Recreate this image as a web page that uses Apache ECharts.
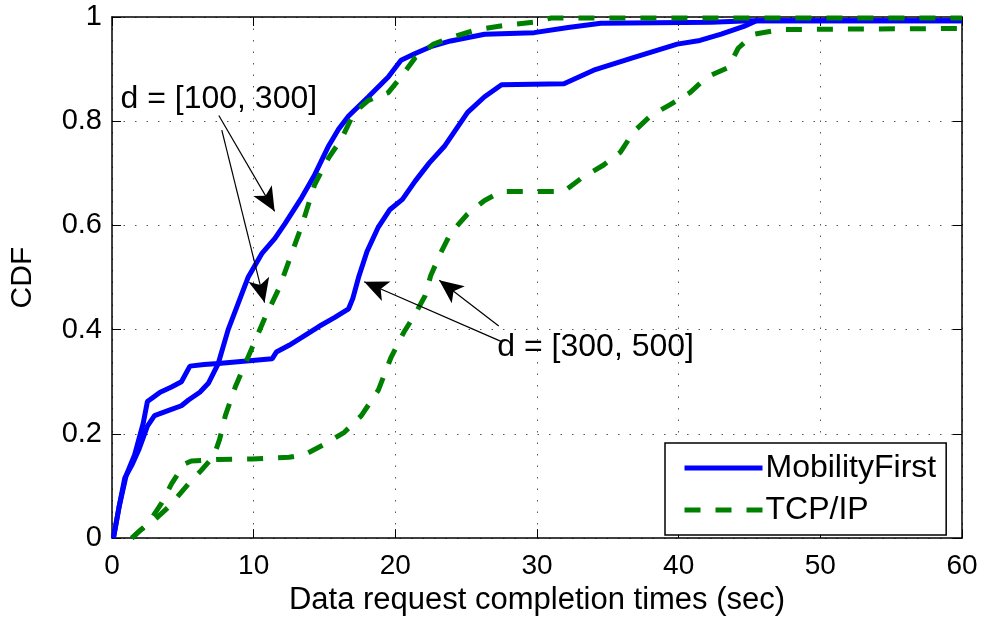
<!DOCTYPE html>
<html>
<head>
<meta charset="utf-8">
<script src="https://cdn.jsdelivr.net/npm/echarts@6/dist/echarts.min.js"></script>
<style>
  html, body { margin: 0; padding: 0; background: #fff; }
  #main { width: 981px; height: 621px; }
</style>
</head>
<body>
<div id="main"></div>
<script>
var xTicks = [0, 10, 20, 30, 40, 50, 60];
var yTicks = [0, 0.2, 0.4, 0.6, 0.8, 1];

// MobilityFirst, d = [100, 300]
var mfNearX = [0.1, 0.5, 0.9, 1.4, 1.9, 2.5, 3.0, 4.0, 4.9, 5.4, 6.2, 6.8, 7.5, 8.2, 8.9, 9.6, 10.6, 11.5, 12.2, 13.4, 14.3, 15.3, 16.0, 16.7, 18.1, 19.5, 20.4, 21.4, 22.5, 23.9, 26.3, 29.8, 32.2, 34.5, 42.3, 45, 60];
var mfNearY = [0, 0.06, 0.115, 0.14, 0.17, 0.215, 0.235, 0.245, 0.254, 0.265, 0.28, 0.297, 0.335, 0.40, 0.45, 0.50, 0.547, 0.575, 0.603, 0.654, 0.697, 0.753, 0.785, 0.81, 0.847, 0.885, 0.917, 0.93, 0.943, 0.954, 0.967, 0.97, 0.98, 0.988, 0.99, 0.993, 0.993];

// MobilityFirst, d = [300, 500]
var mfFarX = [0.1, 0.5, 1.0, 1.6, 2.2, 2.5, 3.4, 4.2, 4.9, 5.5, 6.5, 7.5, 9.5, 11.3, 11.6, 12.5, 13.4, 14.6, 15.7, 16.7, 17.0, 17.4, 18.0, 18.8, 19.6, 20.5, 21.4, 22.4, 23.5, 25.1, 26.3, 27.5, 31.9, 34.0, 36.8, 39.9, 41.5, 43, 44.6, 45.5, 60];
var mfFarY = [0, 0.06, 0.12, 0.16, 0.22, 0.262, 0.28, 0.29, 0.30, 0.33, 0.333, 0.335, 0.34, 0.344, 0.357, 0.37, 0.385, 0.406, 0.423, 0.44, 0.46, 0.50, 0.55, 0.597, 0.63, 0.65, 0.685, 0.72, 0.753, 0.817, 0.847, 0.87, 0.872, 0.898, 0.922, 0.948, 0.955, 0.967, 0.982, 0.993, 0.993];

// TCP/IP, d = [100, 300]
var tcpNearX = [1.4, 2.0, 2.8, 4.0, 5.4, 6.3, 7.2, 7.6, 8.0, 8.7, 9.9, 10.8, 11.8, 12.2, 13.4, 14.3, 15.3, 16.2, 17.1, 18.1, 19.5, 20.4, 21.4, 22.7, 24.2, 25.8, 28, 29.8, 31, 60];
var tcpNearY = [0, 0.015, 0.03, 0.06, 0.104, 0.13, 0.158, 0.19, 0.235, 0.29, 0.366, 0.423, 0.48, 0.51, 0.60, 0.678, 0.73, 0.766, 0.817, 0.84, 0.855, 0.885, 0.922, 0.948, 0.963, 0.976, 0.985, 0.99, 0.998, 0.998];

// TCP/IP, d = [300, 500]
var tcpFarX = [1.4, 2.0, 2.6, 3.5, 4.2, 5.1, 5.6, 7.5, 9.9, 12.5, 13.6, 15, 16.4, 17.6, 18.8, 19.7, 20.6, 21.4, 22.1, 22.5, 23.2, 23.9, 25.1, 26.3, 27.5, 31.9, 33.1, 34.7, 35.9, 36.8, 38, 39.4, 40.8, 42, 43.5, 44.2, 45.3, 47.2, 60];
var tcpFarY = [0, 0.015, 0.03, 0.067, 0.104, 0.142, 0.148, 0.151, 0.152, 0.155, 0.16, 0.18, 0.203, 0.235, 0.284, 0.347, 0.395, 0.43, 0.465, 0.504, 0.547, 0.585, 0.622, 0.648, 0.665, 0.665, 0.69, 0.716, 0.741, 0.779, 0.81, 0.832, 0.855, 0.885, 0.903, 0.94, 0.967, 0.976, 0.978];

// annotation arrows: [fromX, fromY, toX, toY]
var arrows = [
  [7.54, 0.811, 11.48, 0.627],
  [7.75, 0.783, 10.77, 0.452],
  [27.3, 0.407, 23.1, 0.495],
  [27.5, 0.377, 17.8, 0.492]
];
var notes = [
  ['d = [100, 300]', 0.6, 0.843],
  ['d = [300, 500]', 27.2, 0.367]
];

function zip(xs, ys) {
  return xs.map(function (x, i) { return [x, ys[i]]; });
}

var FONT = 'Liberation Sans, Arial, sans-serif';
var BLUE = '#0000ff', GREEN = '#008000';

var myChart = echarts.init(document.getElementById('main'), null, { renderer: 'canvas' });

var gridLine = { show: true, lineStyle: { color: '#555', width: 1, type: [1.5, 10] } };

var option = {
  animation: false,
  backgroundColor: '#fff',
  grid: { left: 110, right: 19, top: 17, bottom: 73, show: false },
  legend: {
    data: ['MobilityFirst', 'TCP/IP'],
    orient: 'vertical',
    left: 665,
    top: 443,
    padding: [8, 10, 8, 17],
    itemGap: 8,
    itemWidth: 78,
    itemHeight: 14,
    backgroundColor: '#fff',
    borderColor: '#000',
    borderWidth: 1.5,
    borderRadius: 0,
    itemStyle: { opacity: 0 },
    lineStyle: { width: 5 },
    textStyle: { fontFamily: FONT, fontSize: 32, lineHeight: 34, color: '#000', padding: [0, 0, 0, -2] }
  },
  xAxis: [{
    type: 'value', min: 0, max: 60, interval: 10,
    axisLine: { show: true, onZero: false, lineStyle: { color: '#000', width: 1.5 } },
    axisTick: { show: true, inside: true, length: 9, lineStyle: { color: '#000', width: 1 } },
    axisLabel: { fontFamily: FONT, fontSize: 28, color: '#000', margin: 14 },
    splitLine: gridLine,
    name: 'Data request completion times (sec)',
    nameLocation: 'middle',
    nameGap: 46,
    nameTextStyle: { fontFamily: FONT, fontSize: 31, color: '#000' }
  }, {
    type: 'value', min: 0, max: 60, interval: 10, position: 'top',
    axisLine: { show: true, onZero: false, lineStyle: { color: '#000', width: 1.5 } },
    axisTick: { show: true, inside: true, length: 9, lineStyle: { color: '#000', width: 1 } },
    axisLabel: { show: false },
    splitLine: { show: false }
  }],
  yAxis: [{
    type: 'value', min: 0, max: 1, interval: 0.2,
    axisLine: { show: true, onZero: false, lineStyle: { color: '#000', width: 1.5 } },
    axisTick: { show: true, inside: true, length: 9, lineStyle: { color: '#000', width: 1 } },
    axisLabel: { fontFamily: FONT, fontSize: 29, color: '#000', margin: 10 },
    splitLine: gridLine,
    name: 'CDF',
    nameLocation: 'middle',
    nameGap: 74,
    nameTextStyle: { fontFamily: FONT, fontSize: 30, color: '#000' }
  }, {
    type: 'value', min: 0, max: 1, interval: 0.2, position: 'right',
    axisLine: { show: true, onZero: false, lineStyle: { color: '#000', width: 1.5 } },
    axisTick: { show: true, inside: true, length: 9, lineStyle: { color: '#000', width: 1 } },
    axisLabel: { show: false },
    splitLine: { show: false }
  }],
  series: [{
    name: 'MobilityFirst', type: 'line', data: zip(mfNearX, mfNearY),
    symbol: 'none', z: 3,
    lineStyle: { color: BLUE, width: 5 }, itemStyle: { color: BLUE }
  }, {
    name: 'MobilityFirst', type: 'line', data: zip(mfFarX, mfFarY),
    symbol: 'none', z: 3,
    lineStyle: { color: BLUE, width: 5 }, itemStyle: { color: BLUE }
  }, {
    name: 'TCP/IP', type: 'line', data: zip(tcpNearX, tcpNearY),
    symbol: 'none', z: 4,
    lineStyle: { color: GREEN, width: 5, type: [16, 15] }, itemStyle: { color: GREEN }
  }, {
    name: 'TCP/IP', type: 'line', data: zip(tcpFarX, tcpFarY),
    symbol: 'none', z: 4,
    lineStyle: { color: GREEN, width: 5, type: [16, 15] }, itemStyle: { color: GREEN }
  }, {
    name: 'notes', type: 'line', data: [], z: 6,
    markLine: {
      silent: true,
      symbol: ['none', 'arrow'],
      symbolSize: [16, 24],
      label: { show: false },
      lineStyle: { color: '#000', width: 1.2, type: 'solid' },
      data: arrows.map(function (a) {
        return [{ coord: [a[0], a[1]] }, { coord: [a[2], a[3]] }];
      })
    },
    markPoint: {
      silent: true,
      symbol: 'circle',
      symbolSize: 0,
      label: {
        show: true, position: 'right', distance: 0,
        fontFamily: FONT, fontSize: 32, color: '#000',
        formatter: function (p) { return p.name; }
      },
      data: notes.map(function (n) {
        return { name: n[0], coord: [n[1], n[2]] };
      })
    }
  }]
};

myChart.setOption(option);
</script>
</body>
</html>
